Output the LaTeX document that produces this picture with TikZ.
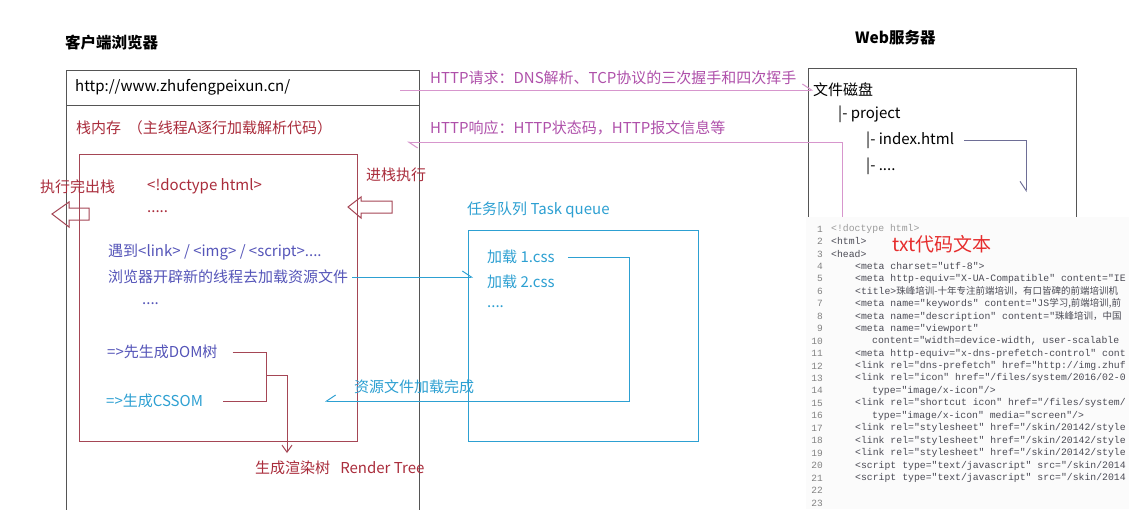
\documentclass[tikz,border=0pt]{standalone}
\usepackage{fontspec}
\setmainfont{Noto Sans CJK SC}
\newfontfamily\codefont{Liberation Mono}
\usetikzlibrary{arrows.meta}
\definecolor{boxgray}{RGB}{85,85,85}
\definecolor{redtxt}{RGB}{170,45,60}
\definecolor{redline}{RGB}{165,70,85}
\definecolor{bluetxt}{RGB}{85,85,185}
\definecolor{cyantxt}{RGB}{45,160,210}
\definecolor{magtxt}{RGB}{175,80,170}
\definecolor{pinkline}{RGB}{215,150,205}
\definecolor{slateline}{RGB}{110,110,150}
\definecolor{brightred}{RGB}{230,45,45}
\definecolor{codegray}{RGB}{75,75,85}
\definecolor{numgray}{RGB}{130,130,130}
\tikzset{
  lbl/.style={inner sep=0pt, anchor=west, font=\fontsize{15}{15}\selectfont},
  titlelbl/.style={inner sep=0pt, anchor=west, font=\fontsize{15.5}{15.5}\selectfont\bfseries},
  codeln/.style={inner sep=0pt, anchor=west, text=codegray, font=\codefont\fontsize{9.8}{10}\selectfont},
  numln/.style={inner sep=0pt, anchor=east, text=numgray, font=\codefont\fontsize{9.5}{10}\selectfont},
  harpL/.style={-{Straight Barb[left,length=9pt,width=12pt]}},
  harpR/.style={-{Straight Barb[right,length=9pt,width=12pt]}},
  hollow/.style={draw=redline, line width=1pt, line join=miter},
}
\newcommand{\cjkc}[1]{{\rmfamily\fontsize{9.5}{10}\selectfont #1}}
\begin{document}
\begin{tikzpicture}[x=1pt,y=1pt]
\useasboundingbox (0,0) rectangle (1129,-509);
\fill[white] (0,0) rectangle (1129,-509);

% titles
\node[titlelbl] (client) at (65,-43) {客户端浏览器};
\node[titlelbl] (server) at (855,-38) {Web服务器};

% browser box
\draw[boxgray, line width=1pt] (66,-512) -- (66,-70) -- (419,-70) -- (419,-512);
\draw[boxgray, line width=1pt] (66,-105) -- (419,-105);
\node[lbl] (url) at (75,-87) {http://www.zhufengpeixun.cn/};
\node[lbl, text=redtxt] (stack) at (76,-128) {栈内存\ \ （主线程A逐行加载解析代码）};

% inner red box
\draw[redline, line width=1pt] (79,-154) rectangle (357,-441);

% stack arrows
\node[lbl, text=redtxt] (popout) at (40,-187) {执行完出栈};
\draw[hollow] (52,-214) -- (69,-202) -- (69,-208) -- (89,-208) -- (89,-220) -- (69,-220) -- (69,-227) -- cycle;
\node[lbl, text=redtxt] (pushin) at (366,-175) {进栈执行};
\draw[hollow] (348,-207) -- (361,-197) -- (361,-201) -- (392,-201) -- (392,-213) -- (361,-213) -- (361,-218) -- cycle;

% code inside stack
\node[lbl, text=redtxt] (doctype) at (147,-186) {<!doctype html>};
\node[lbl, text=redtxt] (dots1) at (147,-212) {.....};
\node[lbl, text=bluetxt] (meet) at (108,-252) {遇到<link> / <img> / <script>....};
\node[lbl, text=bluetxt] (thread) at (108,-277) {浏览器开辟新的线程去加载资源文件};
\node[lbl, text=bluetxt] (dots2) at (142,-304) {....};
\node[lbl, text=bluetxt] (dom) at (107,-352) {=>先生成DOM树};
\node[lbl, text=cyantxt] (cssom) at (106,-401) {=>生成CSSOM};
\node[lbl, text=redtxt] (render) at (255,-468) {生成渲染树\ \ \ Render Tree};

% DOM / CSSOM bracket
\coordinate (brktop) at (266,-352);
\coordinate (brkbot) at (266,-401);
\coordinate (brkmid) at (266,-375);
\coordinate (rtend) at (287,-453);
\draw[redline, line width=1pt] ([xshift=15pt]dom.east) -- (brktop) -- (brkbot) -- ([xshift=20pt]cssom.east);
\draw[redline, line width=1pt, -{Straight Barb[length=7pt,width=10pt]}] (brkmid) -| (rtend);

% HTTP request / response
\node[lbl, text=magtxt] (req) at (430,-78) {HTTP请求：DNS解析、TCP协议的三次握手和四次挥手};
\node[lbl, text=magtxt] (resp) at (430,-128) {HTTP响应：HTTP状态码，HTTP报文信息等};

% server box
\draw[boxgray, line width=1pt] (808,-230) -- (808,-68) -- (1076,-68) -- (1076,-230);
\node[lbl] (disk) at (813,-90) {文件磁盘};
\node[lbl] (proj) at (838,-114) {|- project};
\node[lbl] (index) at (866,-140) {|- index.html};
\node[lbl] (more) at (866,-166) {|- ....};

\coordinate (reqstart) at (400,-90);
\draw[pinkline, line width=1pt, harpL] (reqstart) -- (disk.west |- reqstart);
\coordinate (respsrc) at (842,-225);
\coordinate (respend) at (407,-142);
\draw[pinkline, line width=1pt, harpL] (respsrc) |- (respend);

\coordinate (idxend) at (1026,-192);
\draw[slateline, line width=1pt, harpR] ([xshift=10pt]index.east) -| (idxend);

% task queue
\node[lbl, text=cyantxt] (tq) at (467,-210) {任务队列 Task queue};
\draw[cyantxt, line width=1pt] (468,-230) rectangle (698,-441);
\node[lbl, text=cyantxt] (css1) at (487,-257) {加载 1.css};
\node[lbl, text=cyantxt] (css2) at (487,-282) {加载 2.css};
\node[lbl, text=cyantxt] (dots3) at (487,-307) {....};
\coordinate (qin) at (473,-277);
\draw[cyantxt, line width=1pt, harpL] ([xshift=4pt]thread.east) -- (qin);
\coordinate (loopcorner) at (629,-401);
\coordinate (loopend) at (325,-401);
\draw[cyantxt, line width=1pt, harpR] ([xshift=13pt]css1.east) -| (loopcorner) -- (loopend);
\node[lbl, text=cyantxt] (done) at (354,-387) {资源文件加载完成};

% code panel
\fill[white!97!gray] (806,-217) rectangle (1129,-509);
\foreach \i in {1,...,23} {
  \node[numln] (n\i) at (823,{-229-12.45*(\i-1)}) {\i};
}
\node[codeln, text=numgray!80] (c1) at (831,-229) {<!doctype html>};
\node[codeln] (c2) at (831,{-229-12.45*1}) {<html>};
\node[codeln] (c3) at (831,{-229-12.45*2}) {<head>};
\node[codeln] (c4) at (855,{-229-12.45*3}) {<meta charset="utf-8">};
\node[codeln] (c5) at (855,{-229-12.45*4}) {<meta http-equiv="X-UA-Compatible" content="IE};
\node[codeln] (c6) at (855,{-229-12.45*5}) {<title>\cjkc{珠峰培训-十年专注前端培训，有口皆碑的前端培训机}};
\node[codeln] (c7) at (855,{-229-12.45*6}) {<meta name="keywords" content="JS\cjkc{学习,前端培训,前}};
\node[codeln] (c8) at (855,{-229-12.45*7}) {<meta name="description" content="\cjkc{珠峰培训，中国}};
\node[codeln] (c9) at (855,{-229-12.45*8}) {<meta name="viewport"};
\node[codeln] (c10) at (872,{-229-12.45*9}) {content="width=device-width, user-scalable};
\node[codeln] (c11) at (855,{-229-12.45*10}) {<meta http-equiv="x-dns-prefetch-control" cont};
\node[codeln] (c12) at (855,{-229-12.45*11}) {<link rel="dns-prefetch" href="http://img.zhuf};
\node[codeln] (c13) at (855,{-229-12.45*12}) {<link rel="icon" href="/files/system/2016/02-0};
\node[codeln] (c14) at (872,{-229-12.45*13}) {type="image/x-icon"/>};
\node[codeln] (c15) at (855,{-229-12.45*14}) {<link rel="shortcut icon" href="/files/system/};
\node[codeln] (c16) at (872,{-229-12.45*15}) {type="image/x-icon" media="screen"/>};
\node[codeln] (c17) at (855,{-229-12.45*16}) {<link rel="stylesheet" href="/skin/20142/style};
\node[codeln] (c18) at (855,{-229-12.45*17}) {<link rel="stylesheet" href="/skin/20142/style};
\node[codeln] (c19) at (855,{-229-12.45*18}) {<link rel="stylesheet" href="/skin/20142/style};
\node[codeln] (c20) at (855,{-229-12.45*19}) {<script type="text/javascript" src="/skin/2014};
\node[codeln] (c21) at (855,{-229-12.45*20}) {<script type="text/javascript" src="/skin/2014};
\node[inner sep=0pt, anchor=west, text=brightred, font=\fontsize{19}{19}\selectfont] (txtlabel) at (892,-244) {txt代码文本};
\end{tikzpicture}
\end{document}
